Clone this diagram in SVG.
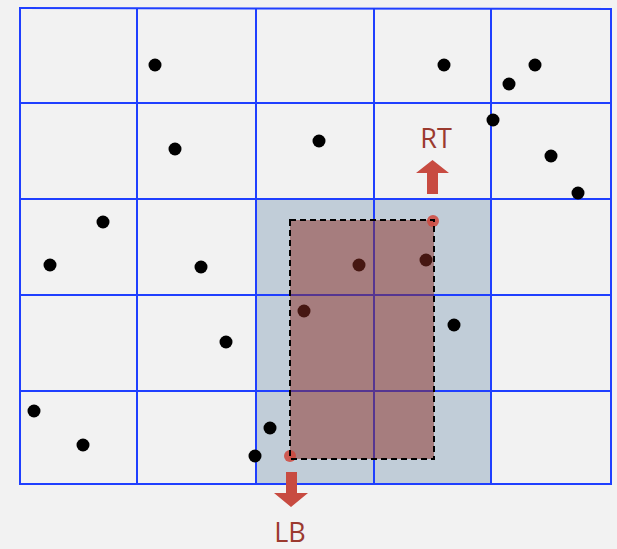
<svg xmlns="http://www.w3.org/2000/svg" width="617" height="549" viewBox="0 0 617 549">
<style>
.grid{stroke:#1f3fff;stroke-width:2;fill:none}
.pt{fill:#000}
.lbl{font-family:"Open Sans","Liberation Sans",sans-serif;font-size:27px;fill:#9b3a2f;text-anchor:middle}
.arr{fill:#c84b41}
</style>
<rect width="617" height="549" fill="#f2f2f2"/>
<g id="cell-region"><rect x="256" y="199" width="235" height="285" fill="#c1cdd8"/></g>
<g id="grid" class="grid">
<line x1="20" y1="8" x2="20" y2="485"/>
<line x1="137" y1="8" x2="137" y2="485"/>
<line x1="256" y1="8" x2="256" y2="485"/>
<line x1="374" y1="8" x2="374" y2="485"/>
<line x1="491" y1="8" x2="491" y2="485"/>
<line x1="611" y1="8" x2="611" y2="485"/>
<line x1="19" y1="8" x2="612" y2="9"/>
<line x1="19" y1="103" x2="612" y2="103"/>
<line x1="19" y1="199" x2="612" y2="199"/>
<line x1="19" y1="295" x2="612" y2="295"/>
<line x1="19" y1="391" x2="612" y2="391"/>
<line x1="19" y1="484" x2="612" y2="484"/>
</g>
<g id="points" class="pt">
<circle cx="155" cy="65" r="6.5"/>
<circle cx="175" cy="149" r="6.5"/>
<circle cx="319" cy="141" r="6.5"/>
<circle cx="444" cy="65" r="6.5"/>
<circle cx="535" cy="65" r="6.5"/>
<circle cx="509" cy="84" r="6.5"/>
<circle cx="493" cy="120" r="6.5"/>
<circle cx="551" cy="156" r="6.5"/>
<circle cx="578" cy="193" r="6.5"/>
<circle cx="103" cy="222" r="6.5"/>
<circle cx="50" cy="265" r="6.5"/>
<circle cx="201" cy="267" r="6.5"/>
<circle cx="359" cy="265" r="6.5"/>
<circle cx="426" cy="260" r="6.5"/>
<circle cx="304" cy="311" r="6.5"/>
<circle cx="454" cy="325" r="6.5"/>
<circle cx="226" cy="342" r="6.5"/>
<circle cx="34" cy="411" r="6.5"/>
<circle cx="83" cy="445" r="6.5"/>
<circle cx="270" cy="428" r="6.5"/>
<circle cx="255" cy="456" r="6.5"/>
</g>
<g id="query-rect">
<rect x="290" y="220" width="144" height="239" fill="#8b2e24" fill-opacity="0.5"/>
<circle cx="433" cy="221" r="6" fill="#d0463c" fill-opacity="0.85"/>
<circle cx="290" cy="456" r="6" fill="#d0463c" fill-opacity="0.85"/>
<rect x="290" y="220" width="144" height="239" fill="none" stroke="#000" stroke-width="2" stroke-dasharray="6,4"/>
</g>
<g id="RT">
<path class="arr" d="M427 194 L438 194 L438 173 L449 173 L432.5 160 L416 173 L427 173 Z"/>
<text class="lbl" x="436" y="148">RT</text>
</g>
<g id="LB">
<path class="arr" d="M286 472 L297 472 L297 493 L308 493 L291 507 L274 493 L286 493 Z"/>
<text class="lbl" x="290" y="542">LB</text>
</g>
</svg>
